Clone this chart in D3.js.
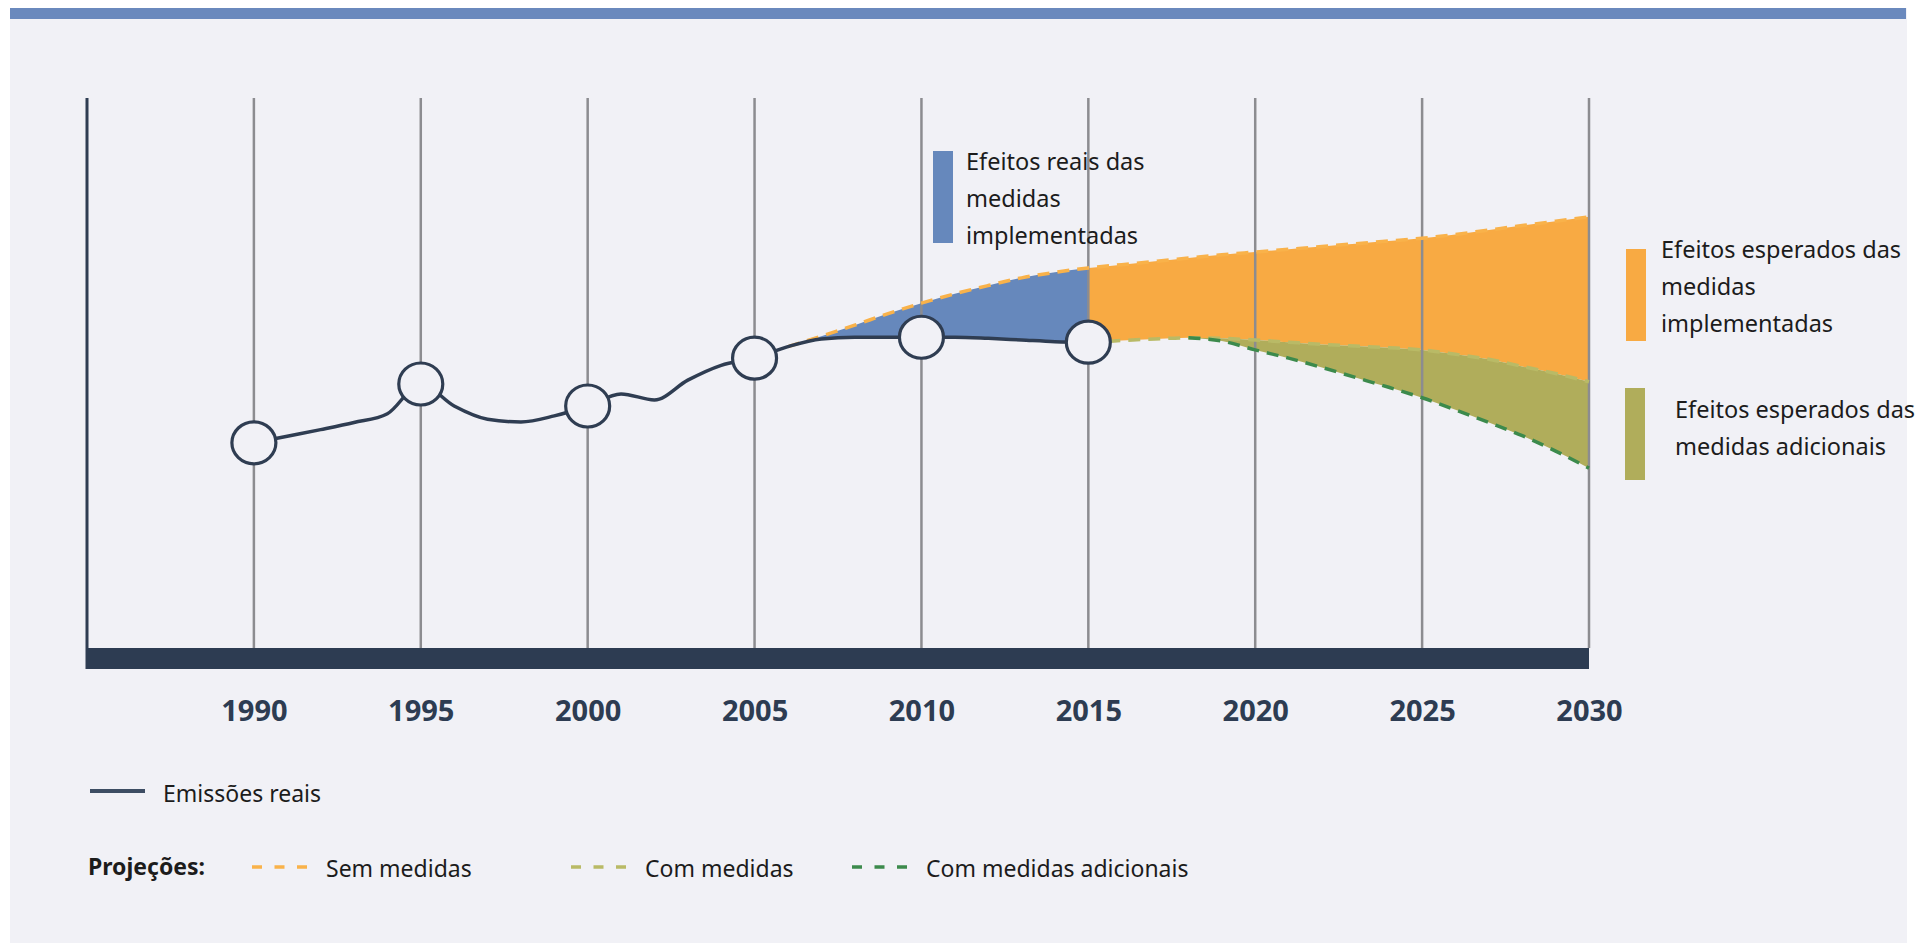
<!DOCTYPE html>
<html>
<head>
<meta charset="utf-8">
<script src="https://cdn.jsdelivr.net/npm/d3@7"></script>
<style>
  html, body { margin: 0; padding: 0; background: #ffffff; }
  svg { display: block; }
  text { font-family: "Noto Sans", "Open Sans", sans-serif; }
</style>
</head>
<body>
<svg id="chart" width="1926" height="943"></svg>
<script>
'use strict';

// values (arbitrary emission index, 0 = bottom bar, 100 = top of grid)
const tickYears = [1990, 1995, 2000, 2005, 2010, 2015, 2020, 2025, 2030];

const emisYears  = [1990, 1991, 1992, 1993, 1994, 1995, 1996, 1997, 1998, 1999, 2000, 2001, 2002,
                    2003, 2004, 2005, 2006, 2007, 2008, 2009, 2010, 2011, 2012, 2013, 2014, 2015];
const emisValues = [37.3, 38.5, 39.7, 41.0, 42.6, 48.0, 44.0, 41.6, 41.1, 42.2, 44.0, 46.2, 45.1,
                    48.7, 51.4, 52.7, 54.8, 56.2, 56.5, 56.5, 56.5, 56.5, 56.3, 56.0, 55.7, 55.6];
const markerYears = [1990, 1995, 2000, 2005, 2010, 2015];

const semYears  = [2006, 2007, 2008, 2009, 2010, 2011, 2012, 2013, 2014, 2015, 2016, 2017, 2018,
                   2019, 2020, 2021, 2022, 2023, 2024, 2025, 2026, 2027, 2028, 2029, 2030];
const semValues = [54.8, 56.7, 58.7, 60.8, 62.7, 64.4, 65.9, 67.3, 68.3, 69.1, 69.7, 70.3, 70.9,
                   71.5, 72.0, 72.5, 73.0, 73.5, 74.0, 74.5, 75.2, 76.0, 76.8, 77.6, 78.4];

const comYears  = [2015, 2016, 2017, 2018, 2019, 2020, 2021, 2022, 2023, 2024, 2025, 2026, 2027, 2028, 2029, 2030];
const comValues = [55.6, 55.9, 56.2, 56.4, 56.3, 56.0, 55.6, 55.2, 54.9, 54.6, 54.2, 53.4, 52.5, 51.2, 49.9, 48.4];

const adicYears  = [2018, 2019, 2020, 2021, 2022, 2023, 2024, 2025, 2026, 2027, 2028, 2029, 2030];
const adicValues = [56.4, 55.8, 54.2, 52.7, 51.0, 49.2, 47.4, 45.5, 43.3, 41.0, 38.6, 35.8, 32.7];

const annotations = [
    { color: '#6688bc', lines: ['Efeitos reais das', 'medidas', 'implementadas'] },
    { color: '#f8aa43', lines: ['Efeitos esperados das', 'medidas', 'implementadas'] },
    { color: '#b0ad5b', lines: ['Efeitos esperados das', 'medidas adicionais'] }
];
const projLabels = ['Sem medidas', 'Com medidas', 'Com medidas adicionais'];
const projColors = ['#f9b24a', '#b9ba66', '#3c8a4c'];

const svg = d3.select('#chart');

const x = d3.scaleLinear().domain([1985, 2030]).range([87, 1589]);
const y = d3.scaleLinear().domain([0, 100]).range([648, 98]);

const toPts = (xs, vs) => xs.map((d, i) => ({ year: d, v: vs[i] }));
const emis = toPts(emisYears, emisValues);
const sem = toPts(semYears, semValues);
const com = toPts(comYears, comValues);
const adic = toPts(adicYears, adicValues);
const valAt = (arr, yr) => arr.find(d => d.year === yr).v;

// background panel + top band
svg.append('rect').attr('x', 10).attr('y', 8).attr('width', 1897).attr('height', 935).attr('fill', '#f1f1f6');
svg.append('rect').attr('x', 10).attr('y', 8).attr('width', 1896).attr('height', 11).attr('fill', '#6a89bd');

const curve = d3.curveMonotoneX;

// areas
const band = d3.area().curve(curve)
    .x(d => x(d.year))
    .y0(d => y(d.lo))
    .y1(d => y(d.hi));

const blueBand = sem.filter(d => d.year <= 2015).map(d => ({ year: d.year, lo: valAt(emis, d.year), hi: d.v }));
const orangeBand = com.map(d => ({ year: d.year, lo: d.v, hi: valAt(sem, d.year) }));
const oliveBand = adic.map(d => ({ year: d.year, lo: d.v, hi: valAt(com, d.year) }));

svg.append('path').datum(blueBand).attr('d', band).attr('fill', annotations[0].color);
svg.append('path').datum(orangeBand).attr('d', band).attr('fill', annotations[1].color);
svg.append('path').datum(oliveBand).attr('d', band).attr('fill', annotations[2].color);

// grid
svg.append('g')
    .selectAll('line')
    .data(tickYears)
    .join('line')
        .attr('x1', d => x(d)).attr('x2', d => x(d))
        .attr('y1', y(100)).attr('y2', y(0))
        .attr('stroke', '#8c8c90')
        .attr('stroke-width', 2.5);

// left axis and bottom bar
svg.append('line')
    .attr('x1', x(1985)).attr('x2', x(1985))
    .attr('y1', y(100)).attr('y2', y(0) + 21)
    .attr('stroke', '#2f3d52').attr('stroke-width', 3);
svg.append('rect')
    .attr('x', x(1985)).attr('y', y(0))
    .attr('width', x(2030) - x(1985)).attr('height', 21)
    .attr('fill', '#2d3c52');

const xAxis = svg.append('g')
    .attr('transform', `translate(0, ${y(0) + 21})`)
    .call(d3.axisBottom(x).tickValues(tickYears).tickSize(0).tickPadding(31).tickFormat(d3.format('d')));
xAxis.select('.domain').remove();
xAxis.selectAll('text')
    .attr('fill', '#2d3c52')
    .style('font-size', '29px')
    .style('font-weight', 'bold')
    .style('font-family', '"Noto Sans", sans-serif');

// projection lines
const line = d3.line().curve(curve).x(d => x(d.year)).y(d => y(d.v));
[sem, com, adic].forEach((data, i) => {
    svg.append('path').datum(data)
        .attr('d', line)
        .attr('fill', 'none')
        .attr('stroke', projColors[i])
        .attr('stroke-width', 3.5)
        .attr('stroke-dasharray', '12,8');
});

// real emissions
svg.append('path').datum(emis)
    .attr('d', line)
    .attr('fill', 'none')
    .attr('stroke', '#2f3d52')
    .attr('stroke-width', 3.5);

svg.append('g')
    .selectAll('ellipse')
    .data(markerYears)
    .join('ellipse')
        .attr('cx', d => x(d))
        .attr('cy', d => y(valAt(emis, d)))
        .attr('rx', 22).attr('ry', 21)
        .attr('fill', '#f1f1f6')
        .attr('stroke', '#2f3d52')
        .attr('stroke-width', 3.2);

// annotations
const annoPos = [
    { bx: 933, by: 151, tx: 966, ty: 170 },
    { bx: 1626, by: 249, tx: 1661, ty: 258 },
    { bx: 1625, by: 388, tx: 1675, ty: 418 }
];
annotations.forEach((a, i) => {
    const p = annoPos[i];
    svg.append('rect').attr('x', p.bx).attr('y', p.by).attr('width', 20).attr('height', 92).attr('fill', a.color);
    svg.append('text')
        .attr('x', p.tx).attr('y', p.ty)
        .attr('fill', '#1c1c1c')
        .style('font-size', '23.5px')
        .selectAll('tspan')
        .data(a.lines)
        .join('tspan')
            .attr('x', p.tx)
            .attr('dy', (d, j) => j === 0 ? 0 : 37)
            .text(d => d);
});

// legend
const legend = svg.append('g').style('font-size', '23px').attr('fill', '#1c1c1c');
legend.append('line').attr('x1', 90).attr('x2', 145).attr('y1', 791).attr('y2', 791)
    .attr('stroke', '#3d4d63').attr('stroke-width', 4);
legend.append('text').attr('x', 163).attr('y', 802).text('Emissões reais');

legend.append('text').attr('x', 88).attr('y', 875).style('font-weight', 'bold').text('Projeções:');
const legX = [252, 571, 852];
projLabels.forEach((lab, i) => {
    legend.append('line')
        .attr('x1', legX[i]).attr('x2', legX[i] + 55)
        .attr('y1', 867).attr('y2', 867)
        .attr('stroke', projColors[i]).attr('stroke-width', 3.5)
        .attr('stroke-dasharray', '10,12.5');
    legend.append('text').attr('x', legX[i] + 74).attr('y', 877).text(lab);
});
</script>
</body>
</html>
